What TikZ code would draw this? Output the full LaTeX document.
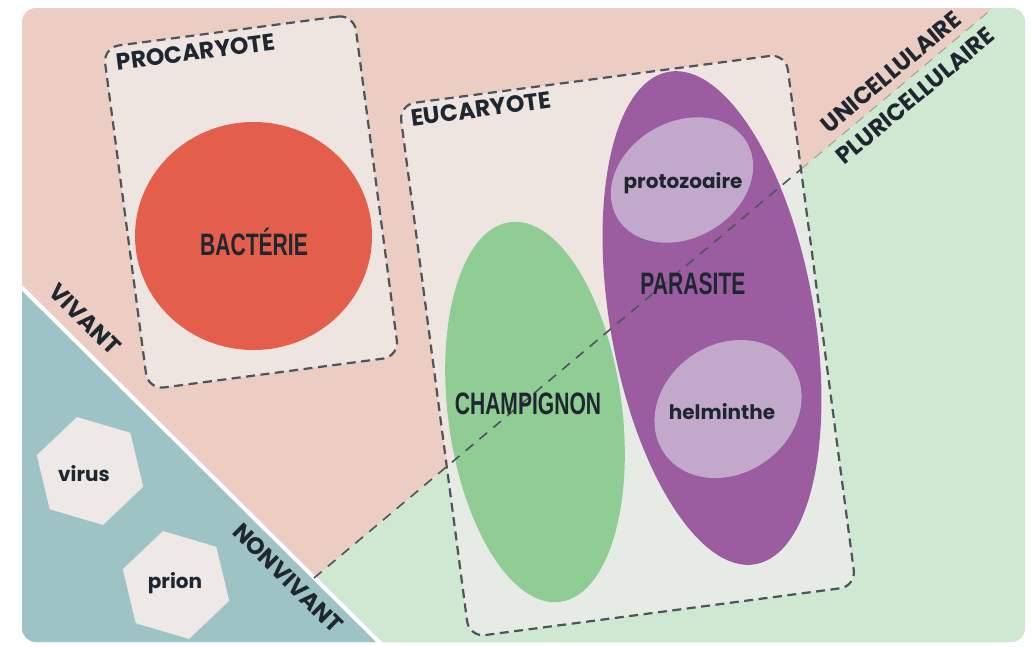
\documentclass[tikz,border=0pt]{standalone}
\usepackage{fontspec}
\usetikzlibrary{shapes.geometric,calc}
\newfontfamily\labfont{Poppins}
\newfontfamily\smallfont{Poppins}
\newfontfamily\condfont{Liberation Sans}[FakeStretch=0.68]
\definecolor{bgpink}{HTML}{ECCDC3}
\definecolor{bggreen}{HTML}{CFE8D1}
\definecolor{bgteal}{HTML}{9DC3C5}
\definecolor{boxover}{HTML}{EFEEEC}
\definecolor{bact}{HTML}{E35F4C}
\definecolor{champ}{HTML}{90CD94}
\definecolor{para}{HTML}{9B5CA0}
\definecolor{lilac}{HTML}{C2A9CC}
\definecolor{hexfill}{HTML}{EEE9E6}
\definecolor{dashcol}{HTML}{4D545B}
\definecolor{ink}{HTML}{1E2630}
\begin{document}
\begin{tikzpicture}[x=1pt,y=-1pt,
  catlabel/.style={font=\labfont\bfseries\fontsize{23.5}{23.5}\selectfont, text=ink, inner sep=0pt},
  bigname/.style={font=\condfont\bfseries\fontsize{31}{31}\selectfont, text=ink, inner sep=0pt},
  smallname/.style={font=\smallfont\bfseries\fontsize{20}{20}\selectfont, text=ink, inner sep=0pt},
  cellbox/.style={draw=dashcol, line width=2.2pt, dash pattern=on 9pt off 5.5pt,
    rounded corners=16pt, fill=boxover, fill opacity=0.75, inner sep=0pt},
  divline/.style={draw=dashcol, line width=1.6pt, dash pattern=on 10pt off 8pt},
  hexa/.style={regular polygon, regular polygon sides=6, fill=hexfill,
    minimum size=111pt, inner sep=0pt}]
\useasboundingbox (0,0) rectangle (1031,646);
% background panel
\begin{scope}
  \clip[rounded corners=14pt] (22,8) rectangle (1025,642);
  \fill[bgpink] (0,0) rectangle (1031,646);
  \fill[bggreen] (314,578) -- (1002.5,0) -- (1031,0) -- (1031,646) -- (383,646) -- cycle;
  \fill[bgteal] (0,266) -- (383,646) -- (0,646) -- cycle;
  \coordinate (wA) at (0,266);
  \coordinate (wB) at (383,646);
  \draw[white, line width=4pt] (wA) -- (wB);
\end{scope}
% cell boxes
\node[cellbox, minimum width=253pt, minimum height=345pt, rotate=7.5] (proc) at (251,202) {};
\node[cellbox, minimum width=390pt, minimum height=537pt, rotate=7.5] (euc) at (627.5,345.5) {};
% organisms
\fill[bact] (253.5,236) ellipse [x radius=118.5pt, y radius=114pt];
\fill[champ, rotate around={7.5:(535,412)}] (535,412) ellipse [x radius=87pt, y radius=191.5pt];
\fill[para, rotate around={10:(712,318)}] (712,318) ellipse [x radius=102pt, y radius=250pt];
\fill[lilac, rotate around={30:(682,180)}] (682,180) ellipse [x radius=75pt, y radius=58pt];
\fill[lilac, rotate around={35:(728,409)}] (728,409) ellipse [x radius=77.6pt, y radius=64.4pt];
% dividing line uni/pluri
\coordinate (dA) at (314,578);
\coordinate (dB) at (800.6,169.6);
\coordinate (dC) at (993,8);
\draw[divline] (dA) -- (dB);
\draw[divline, draw opacity=0.45, line width=1pt] (dB) -- (dC);
% hexagons
\node[hexa, rotate=-16.5] (virus) at (90,471) {};
\node[hexa, rotate=-16.5] (prion) at (176,585) {};
% texts
\node[catlabel, rotate=7.5] (tproc) at (196,52) {PROCARYOTE};
\node[catlabel, rotate=7.5] (teuc) at (481,109) {EUCARYOTE};
\node[catlabel, rotate=-44.8] (tviv) at (85,319) {VIVANT};
\node[catlabel, rotate=-44.8] (tnon) at (288,578) {NONVIVANT};
\node[catlabel, rotate=40] (tuni) at (891,72) {UNICELLULAIRE};
\node[catlabel, rotate=40] (tplu) at (915,96) {PLURICELLULAIRE};
\node[bigname] (tbact) at (254,242) {BACTÉRIE};
\node[bigname] (tchamp) at (528,404) {CHAMPIGNON};
\node[bigname] (tpara) at (693,284) {PARASITE};
\node[smallname] (tproto) at (683,183) {protozoaire};
\node[smallname] (thelm) at (722,412) {helminthe};
\node[smallname] (tvirus) at (84,474) {virus};
\node[smallname] (tprion) at (175,583) {prion};
\end{tikzpicture}
\end{document}
